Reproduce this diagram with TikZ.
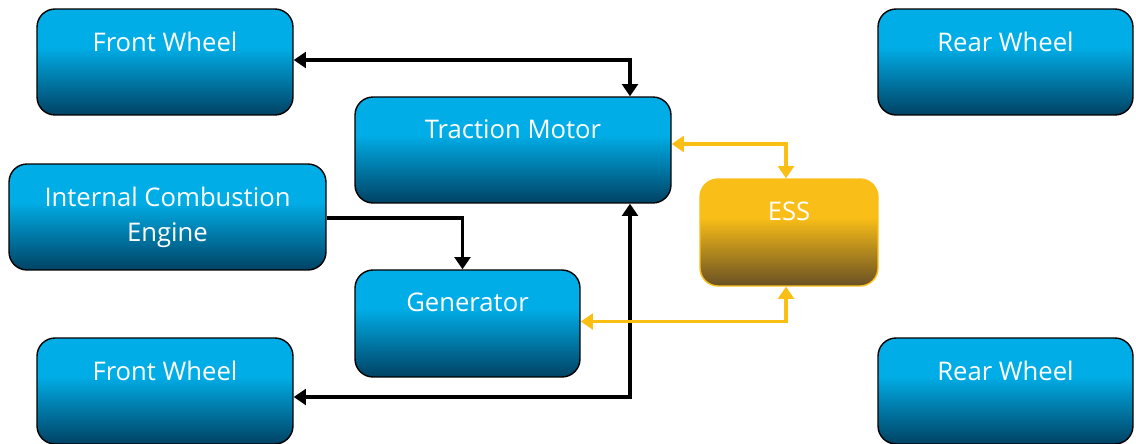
\documentclass[tikz,border=0pt]{standalone}
\usepackage{fontspec}
\setmainfont{Open Sans}
\usetikzlibrary{arrows.meta,calc}

\definecolor{boxlight}{RGB}{0,173,230}
\definecolor{boxdark}{RGB}{0,66,100}
\definecolor{esslight}{RGB}{249,190,23}
\definecolor{essdark}{RGB}{104,80,36}
\definecolor{esslink}{RGB}{250,190,20}

\pgfdeclareverticalshading{blueshade}{100bp}{color(0bp)=(boxdark); color(25bp)=(boxdark); color(57bp)=(boxlight); color(100bp)=(boxlight)}
\pgfdeclareverticalshading{essshade}{100bp}{color(0bp)=(essdark); color(25bp)=(essdark); color(57bp)=(esslight); color(100bp)=(esslight)}

\tikzset{
  box/.style={draw=black, line width=0.8pt, rounded corners=0.36cm,
    shade, shading=blueshade, minimum height=2.12cm, inner sep=0pt},
  essbox/.style={box, draw=esslight, shading=essshade},
  boxtext/.style={anchor=north, yshift=-0.46cm, inner sep=0pt, text=white,
    align=center, font=\fontsize{14.6}{20.4}\selectfont},
  link/.style={line width=2pt,
    {Triangle[width=9pt,length=7pt]}-{Triangle[width=9pt,length=7pt]}},
  onelink/.style={line width=2pt, -{Triangle[width=9pt,length=7pt]}},
  esslinks/.style={link, draw=esslink}
}

\begin{document}
\begin{tikzpicture}[x=0.02cm, y=-0.02cm]
\useasboundingbox (0,0) rectangle (1136,443);

% wheels
\node [box, minimum width=5.12cm] (fw1) at (165,62) {};
\node [box, minimum width=5.10cm] (rw1) at (1005.5,62) {};
\node [box, minimum width=5.12cm] (fw2) at (165,391) {};
\node [box, minimum width=5.10cm] (rw2) at (1005.5,391) {};

% power train
\node [box, minimum width=6.32cm] (tm) at (513,150) {};
\node [box, minimum width=6.34cm] (ice) at (167.5,217) {};
\node [box, minimum width=4.50cm, minimum height=2.14cm] (gen) at (467.5,323.5) {};
\node [essbox, minimum width=3.56cm, minimum height=2.14cm] (ess) at (789,232.5) {};

\node [boxtext] (fw1-t) at (fw1.north) {Front Wheel};
\node [boxtext] (rw1-t) at (rw1.north) {Rear Wheel};
\node [boxtext] (fw2-t) at (fw2.north) {Front Wheel};
\node [boxtext] (rw2-t) at (rw2.north) {Rear Wheel};
\node [boxtext] (tm-t) at (tm.north) {Traction Motor};
\node [boxtext] (ice-t) at (ice.north) {Internal Combustion\\Engine};
\node [boxtext] (gen-t) at (gen.north) {Generator};
\node [boxtext] (ess-t) at (ess.north) {ESS};

% mechanical links
\draw [link] ($(fw1.east)+(0,-2)$) -| ($(tm.north)+(117,0)$);
\draw [link] ($(fw2.east)+(0,6)$) -| ($(tm.south)+(117,0)$);
\draw [onelink] ($(ice.east)+(0,1)$) -| ($(gen.north)+(-5,0)$);

% electrical links
\draw [esslinks] ($(tm.east)+(0,-6)$) -| ($(ess.north)+(-3,0)$);
\draw [esslinks] ($(gen.east)+(0,-2)$) -| ($(ess.south)+(-3,0)$);
\end{tikzpicture}
\end{document}
